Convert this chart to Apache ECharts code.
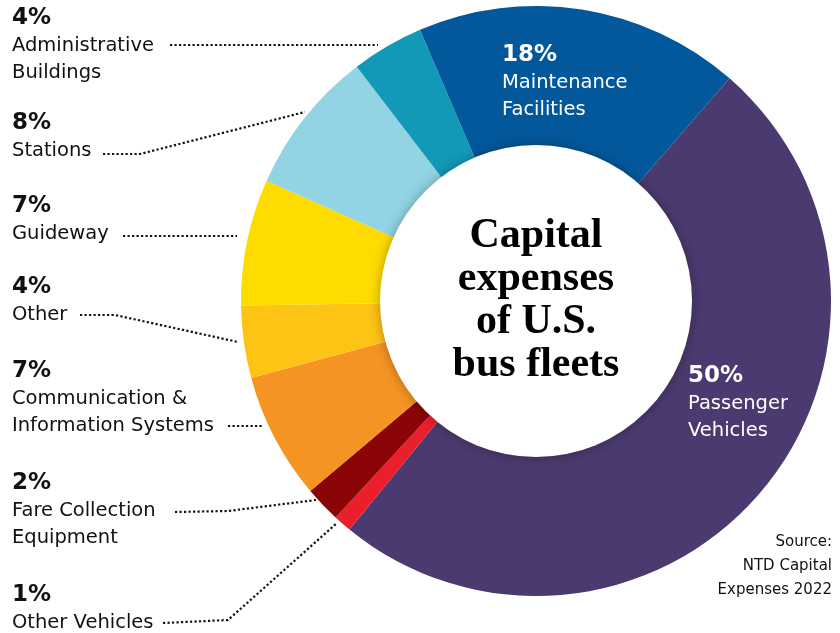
<!DOCTYPE html>
<html>
<head>
<meta charset="utf-8">
<style>
  html, body { margin: 0; padding: 0; background: #ffffff; }
  #chart { width: 840px; height: 633px; }
</style>
<script src="https://cdn.jsdelivr.net/npm/echarts@6/dist/echarts.min.js"></script>
</head>
<body>
<div id="chart"></div>
<script>
// Capital expense categories, clockwise from the Passenger Vehicles slice
const categories = [
  'Passenger\nVehicles',
  'Other Vehicles',
  'Fare Collection\nEquipment',
  'Communication &\nInformation Systems',
  'Other',
  'Guideway',
  'Stations',
  'Administrative\nBuildings',
  'Maintenance\nFacilities'
];
// Share of capital expenses (%)
const shares = [50, 1, 2, 7, 4, 7, 8, 4, 18];
const sliceColors = [
  '#4b3a6f', '#ea1f2b', '#8b0506', '#f59422', '#fdc315',
  '#fedc00', '#92d4e3', '#1299b7', '#03589b'
];
const centerTitle = 'Capital\nexpenses\nof U.S.\nbus fleets';
const sourceLines = ['Source:', 'NTD Capital', 'Expenses 2022'];

const CX = 536, CY = 301;
const labelFont = '"DejaVu Sans", "Noto Sans", sans-serif';

// Text blocks: [category index, left x, baseline of % line, colour]
const blocks = [
  [7, 12, 25, '#111'],
  [6, 12, 130, '#111'],
  [5, 12, 213, '#111'],
  [4, 12, 294, '#111'],
  [3, 12, 378, '#111'],
  [2, 12, 490, '#111'],
  [1, 12, 602, '#111'],
  [8, 502, 62, '#ffffff'],
  [0, 688, 383, '#ffffff']
];
// Dotted leader lines from label to slice
const leaders = [
  [[170, 45], [378, 45]],
  [[103, 154], [140, 154], [305, 112]],
  [[123, 236], [237, 236]],
  [[80, 315], [115, 315], [238, 342]],
  [[228, 426], [263, 426]],
  [[175, 512], [228, 511], [316, 500]],
  [[163, 623], [228, 620], [337, 523]]
];

const graphics = [];
const LINE = 27;
blocks.forEach(([idx, x, base, color]) => {
  graphics.push({
    type: 'text', z: 10,
    style: {
      text: shares[idx] + '%', x: x, y: base + 5,
      font: 'bold 23px ' + labelFont, fill: color,
      textAlign: 'left', textVerticalAlign: 'bottom'
    }
  });
  categories[idx].split('\n').forEach((ln, k) => {
    graphics.push({
      type: 'text', z: 10,
      style: {
        text: ln, x: x, y: base + LINE * (k + 1) + 4,
        font: '400 19.5px ' + labelFont, fill: color,
        textAlign: 'left', textVerticalAlign: 'bottom'
      }
    });
  });
});
leaders.forEach(pts => {
  graphics.push({
    type: 'polyline', z: 9,
    shape: { points: pts },
    style: { stroke: '#111', lineWidth: 2.2, lineDash: [2.2, 2.3], fill: null }
  });
});
sourceLines.forEach((ln, k) => {
  graphics.push({
    type: 'text', z: 10,
    style: {
      text: ln, x: 832, y: 550 + 24 * k,
      font: '400 15px ' + labelFont, fill: '#111',
      textAlign: 'right', textVerticalAlign: 'bottom'
    }
  });
});

const chart = echarts.init(document.getElementById('chart'), null, { renderer: 'canvas' });
chart.setOption({
  backgroundColor: '#ffffff',
  animation: false,
  series: [
    {
      type: 'pie',
      center: [CX, CY],
      radius: [150, 295],
      startAngle: 49,
      clockwise: true,
      silent: true,
      label: { show: false },
      labelLine: { show: false },
      itemStyle: { borderWidth: 0 },
      data: categories.map((c, i) => ({
        name: c, value: shares[i], itemStyle: { color: sliceColors[i] }
      }))
    },
    {
      type: 'pie',
      center: [CX, CY],
      radius: [0, 156],
      silent: true,
      z: 3,
      itemStyle: {
        color: '#ffffff',
        shadowBlur: 12,
        shadowColor: 'rgba(0,0,0,0.3)'
      },
      label: {
        show: true,
        position: 'center',
        formatter: centerTitle,
        fontFamily: '"Liberation Serif", "DejaVu Serif", serif',
        fontWeight: 'bold',
        fontSize: 42,
        lineHeight: 43,
        color: '#000'
      },
      labelLine: { show: false },
      data: [{ name: 'title', value: 1 }]
    }
  ],
  graphic: graphics
});
</script>
</body>
</html>
